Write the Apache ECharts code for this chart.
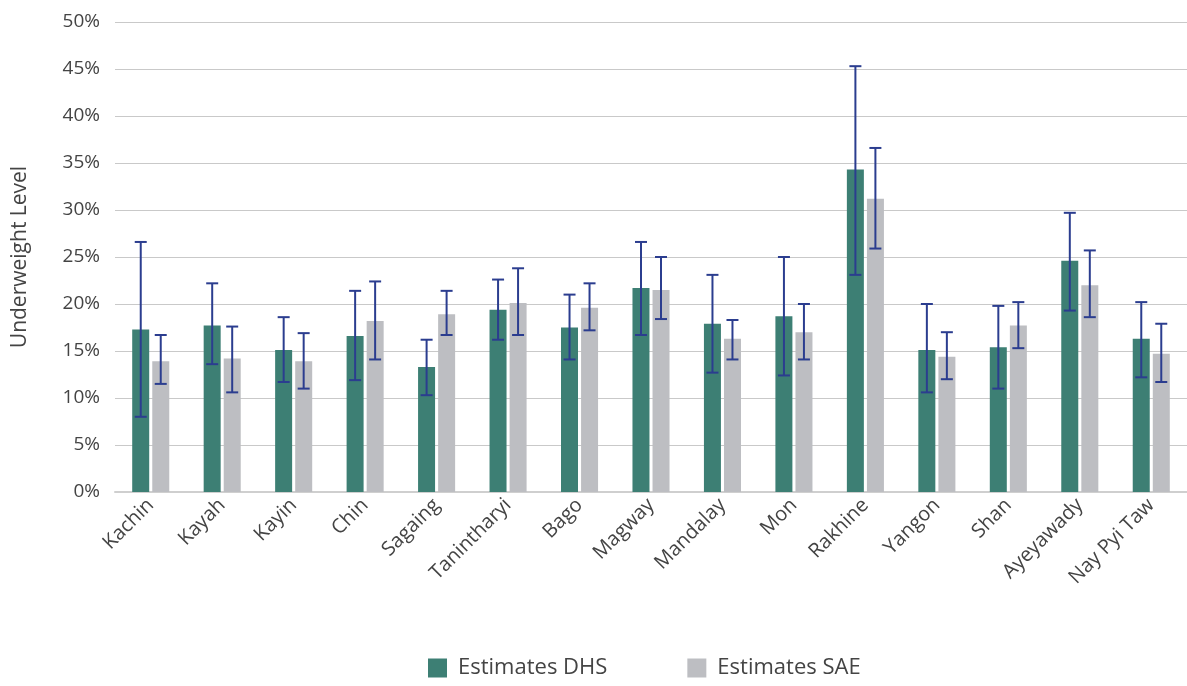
<!DOCTYPE html>
<html>
<head>
<meta charset="utf-8">
<script src="https://cdn.jsdelivr.net/npm/echarts@6/dist/echarts.min.js"></script>
<style>
  html, body { margin: 0; padding: 0; background: #fff; }
  #chart { width: 1187px; height: 686px; }
</style>
</head>
<body>
<div id="chart"></div>
<script>
const regions = ['Kachin', 'Kayah', 'Kayin', 'Chin', 'Sagaing', 'Tanintharyi', 'Bago', 'Magway',
  'Mandalay', 'Mon', 'Rakhine', 'Yangon', 'Shan', 'Ayeyawady', 'Nay Pyi Taw']

// values in %
const dhs = [17.3, 17.7, 15.1, 16.6, 13.3, 19.4, 17.5, 21.7, 17.9, 18.7, 34.3, 15.1, 15.4, 24.6, 16.3]
const dhsLow = [8.0, 13.6, 11.7, 11.9, 10.3, 16.2, 14.1, 16.7, 12.7, 12.4, 23.1, 10.6, 11.0, 19.3, 12.2]
const dhsHigh = [26.6, 22.2, 18.6, 21.4, 16.2, 22.6, 21.0, 26.6, 23.1, 25.0, 45.3, 20.0, 19.8, 29.7, 20.2]

const sae = [13.9, 14.2, 13.9, 18.2, 18.9, 20.1, 19.6, 21.5, 16.3, 17.0, 31.2, 14.4, 17.7, 22.0, 14.7]
const saeLow = [11.5, 10.6, 11.0, 14.1, 16.7, 16.7, 17.2, 18.4, 14.1, 14.1, 25.9, 12.0, 15.3, 18.6, 11.7]
const saeHigh = [16.7, 17.6, 16.9, 22.4, 21.4, 23.8, 22.2, 25.0, 18.3, 20.0, 36.6, 17.0, 20.2, 25.7, 17.9]

const yTicks = [0, 5, 10, 15, 20, 25, 30, 35, 40, 45, 50]

const font = '"Open Sans", "Noto Sans", sans-serif'
const errColor = '#2b3d8f'
const barW = 17
const shift = 10 // half of bar + half gap

function errorSeries (low, high, dx) {
  return {
    type: 'custom',
    silent: true,
    z: 5,
    data: low.map((v, i) => [i, v, high[i]]),
    encode: { x: 0, y: [1, 2] },
    renderItem (params, api) {
      const lo = api.coord([api.value(0), api.value(1)])
      const hi = api.coord([api.value(0), api.value(2)])
      const x = lo[0] + dx
      const cap = 6
      const style = { stroke: errColor, lineWidth: 2 }
      return {
        type: 'group',
        children: [
          { type: 'line', shape: { x1: x, y1: lo[1], x2: x, y2: hi[1] }, style },
          { type: 'line', shape: { x1: x - cap, y1: lo[1], x2: x + cap, y2: lo[1] }, style },
          { type: 'line', shape: { x1: x - cap, y1: hi[1], x2: x + cap, y2: hi[1] }, style }
        ]
      }
    }
  }
}

const myChart = echarts.init(document.getElementById('chart'))
const option = {
  animation: false,
  textStyle: { fontFamily: font },
  grid: { left: 115, right: 0, top: 22, bottom: 194 },
  legend: {
    bottom: 2,
    left: 423,
    icon: 'rect',
    itemWidth: 19,
    itemHeight: 19,
    itemGap: 80,
    data: ['Estimates DHS', 'Estimates SAE'],
    textStyle: { fontSize: 22, color: '#444', padding: [0, 0, 0, 6] }
  },
  xAxis: {
    type: 'category',
    data: regions,
    axisTick: { show: false },
    axisLine: { lineStyle: { color: '#cfcfcf', width: 2 } },
    axisLabel: {
      rotate: 45,
      interval: 0,
      fontSize: 20,
      color: '#444',
      margin: 10
    }
  },
  yAxis: {
    type: 'value',
    min: yTicks[0],
    max: yTicks[yTicks.length - 1],
    interval: 5,
    name: 'Underweight Level',
    nameLocation: 'middle',
    nameGap: 84,
    nameTextStyle: { fontSize: 21, color: '#444' },
    axisLine: { show: false },
    axisTick: { show: false },
    splitLine: { lineStyle: { color: '#c9c9c9', width: 1 } },
    axisLabel: {
      fontSize: 19,
      color: '#444',
      margin: 15,
      formatter: '{value}%'
    }
  },
  series: [
    {
      name: 'Estimates DHS',
      type: 'bar',
      data: dhs,
      barWidth: barW,
      barGap: '18%',
      itemStyle: { color: '#3d7f74' }
    },
    {
      name: 'Estimates SAE',
      type: 'bar',
      data: sae,
      barWidth: barW,
      itemStyle: { color: '#bdbec2' }
    },
    errorSeries(dhsLow, dhsHigh, -shift),
    errorSeries(saeLow, saeHigh, shift)
  ]
}
myChart.setOption(option)
</script>
</body>
</html>
